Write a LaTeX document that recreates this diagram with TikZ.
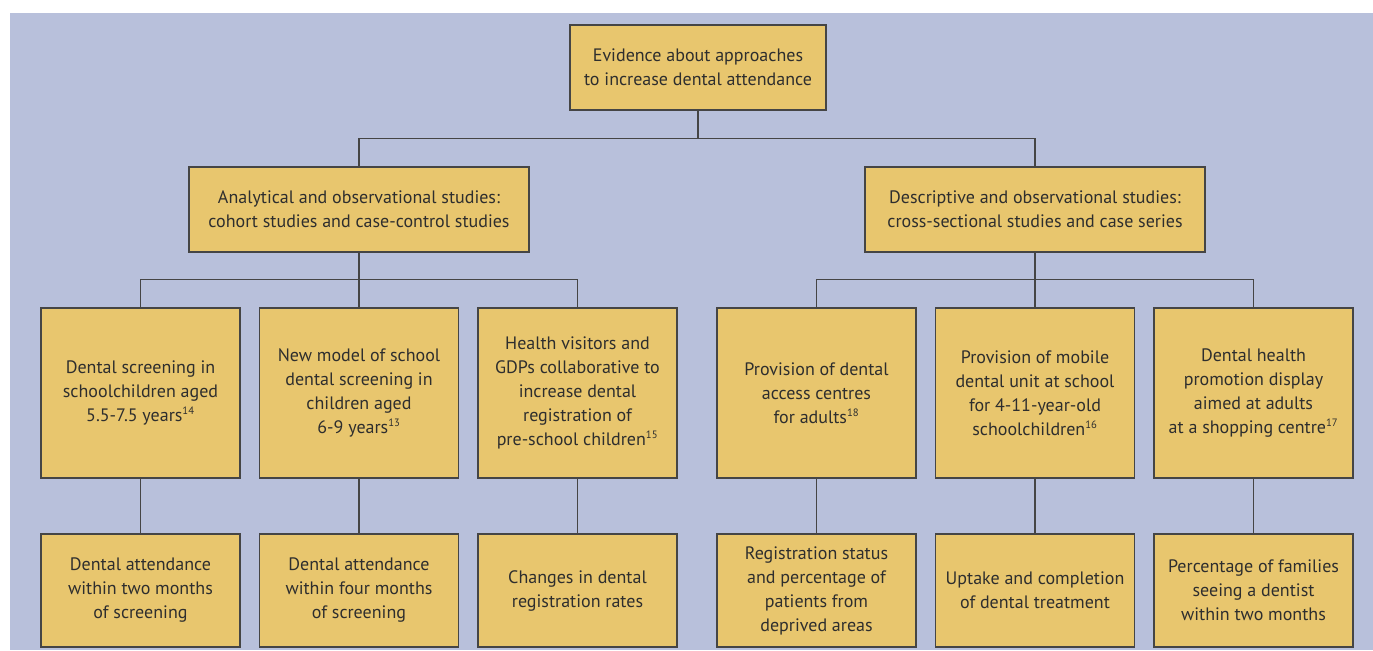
\documentclass[tikz,border=0pt]{standalone}
\usepackage{fontspec}
\setmainfont{PT Sans}
\definecolor{bgblue}{HTML}{B8C0DB}
\definecolor{boxfill}{HTML}{E8C66E}
\definecolor{linegray}{HTML}{454545}
\definecolor{txt}{HTML}{2E2E2E}
\newcommand{\refsup}[1]{\textsuperscript{\fontsize{8}{8}\selectfont #1}}
\begin{document}
\begin{tikzpicture}[x=0.75pt,y=-0.75pt,
  box/.style={draw=linegray,fill=boxfill,line width=0.9pt,inner sep=0pt,align=center,
    font=\fontsize{13.5}{18}\selectfont,text=txt},
  conn/.style={draw=linegray,line width=0.9pt}]
\useasboundingbox (0,0) rectangle (1373,650);
\fill[bgblue] (10,13) rectangle (1373,650);
% top
\node[box,minimum width=256*0.75pt,minimum height=85*0.75pt] (top) at (698,67.5)
  {Evidence about approaches\\to increase dental attendance};
% level 2
\node[box,minimum width=340*0.75pt,minimum height=85*0.75pt] (anal) at (359,209.5)
  {Analytical and observational studies:\\cohort studies and case-control studies};
\node[box,minimum width=340*0.75pt,minimum height=85*0.75pt] (desc) at (1035,209.5)
  {Descriptive and observational studies:\\cross-sectional studies and case series};
% level 3
\tikzset{l3/.style={box,minimum width=199*0.75pt,minimum height=170*0.75pt},
         l4/.style={box,minimum width=199*0.75pt,minimum height=113*0.75pt}}
\node[l3] (a1) at (140.5,393) {Dental screening in\\schoolchildren aged\\5.5-7.5 years\refsup{14}};
\node[l3] (a2) at (359,393) {New model of school\\dental screening in\\children aged\\6-9 years\refsup{13}};
\node[l3] (a3) at (577.5,393) {Health visitors and\\GDPs collaborative to\\increase dental\\registration of\\pre-school children\refsup{15}};
\node[l3] (d1) at (816.5,393) {Provision of dental\\access centres\\for adults\refsup{18}};
\node[l3] (d2) at (1035,393) {Provision of mobile\\dental unit at school\\for 4-11-year-old\\schoolchildren\refsup{16}};
\node[l3] (d3) at (1253.5,393) {Dental health\\promotion display\\aimed at adults\\at a shopping centre\refsup{17}};
% level 4
\node[l4] (b1) at (140.5,590.5) {Dental attendance\\within two months\\of screening};
\node[l4] (b2) at (359,590.5) {Dental attendance\\within four months\\of screening};
\node[l4] (b3) at (577.5,590.5) {Changes in dental\\registration rates};
\node[l4] (e1) at (816.5,590.5) {Registration status\\and percentage of\\patients from\\deprived areas};
\node[l4] (e2) at (1035,590.5) {Uptake and completion\\of dental treatment};
\node[l4] (e3) at (1253.5,590.5) {Percentage of families\\seeing a dentist\\within two months};
% connectors
\path[conn] (top.south) -- ++(0,28) coordinate (j1);
\path[conn] (anal.north) |- (j1) -| (desc.north);
\path[conn] (anal.south) -- ++(0,27) coordinate (j2);
\path[conn] (a1.north) |- (j2) -| (a3.north);
\path[conn] (j2) -- (a2.north);
\path[conn] (desc.south) -- ++(0,27) coordinate (j3);
\path[conn] (d1.north) |- (j3) -| (d3.north);
\path[conn] (j3) -- (d2.north);
\path[conn] (a1) -- (b1);
\path[conn] (a2) -- (b2);
\path[conn] (a3) -- (b3);
\path[conn] (d1) -- (e1);
\path[conn] (d2) -- (e2);
\path[conn] (d3) -- (e3);
\end{tikzpicture}
\end{document}
